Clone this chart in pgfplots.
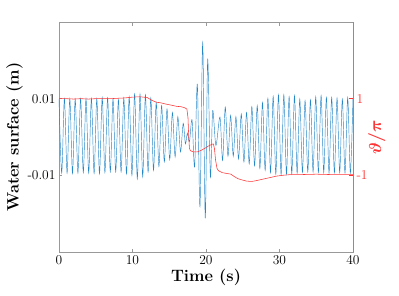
\documentclass[border=0pt]{standalone}
\usepackage{pgfplots}
\pgfplotsset{compat=1.18}
\usepackage{amsmath,bm}
\definecolor{mblue}{rgb}{0,0.447,0.741}
\definecolor{mred}{rgb}{1,0.2,0.2}
\definecolor{axgray}{rgb}{0.6,0.6,0.6}
\begin{document}
\begin{tikzpicture}
\useasboundingbox (-59pt,-43pt) rectangle (340pt,252pt);
\begin{axis}[
  scale only axis, width=294pt, height=230pt,
  at={(0pt,0pt)}, anchor=south west,
  xmin=0, xmax=40, ymin=-0.03, ymax=0.03,
  scaled y ticks=false,
  xtick={0,10,20,30,40}, xticklabels={0,10,20,30,40},
  ytick={-0.01,0.01}, yticklabels={-0.01,0.01},
  ytick pos=left, xtick pos=both,
  tick align=inside,
  axis line style={axgray, line width=0.6pt},
  tick style={axgray, line width=0.6pt},
  major tick length=3.5pt,
  ticklabel style={font=\fontsize{13.5}{15}\selectfont, text=black},
  xlabel={Time (s)}, ylabel={Water surface (m)},
  label style={font=\fontsize{16.5}{18}\selectfont\bfseries},
  xlabel style={yshift=3pt},
  ylabel style={yshift=-2pt},
]
\addplot[mblue!85!white, line width=0.45pt, smooth, tension=0.5] coordinates {
(0.000,0.0099) (0.367,-0.0094) (0.735,0.0100) (1.102,-0.0094) (1.470,0.0100)
(1.837,-0.0095) (2.204,0.0099) (2.572,-0.0094) (2.939,0.0100) (3.307,-0.0093)
(3.674,0.0100) (4.041,-0.0094) (4.409,0.0101) (4.776,-0.0095) (5.144,0.0100)
(5.511,-0.0096) (5.878,0.0103) (6.246,-0.0093) (6.613,0.0102) (6.980,-0.0091)
(7.348,0.0099) (7.715,-0.0091) (8.083,0.0097) (8.450,-0.0091) (8.818,0.0102)
(9.185,-0.0096) (9.552,0.0105) (9.920,-0.0100) (10.287,0.0112) (10.654,-0.0109)
(11.022,0.0112) (11.389,-0.0104) (11.757,0.0110) (12.124,-0.0091) (12.492,0.0102)
(12.859,-0.0087) (13.226,0.0090) (13.594,-0.0077) (13.961,0.0082) (14.329,-0.0065)
(14.696,0.0073) (15.063,-0.0059) (15.431,0.0064) (15.798,-0.0052) (16.166,0.0053)
(16.533,-0.0039) (16.900,0.0036) (17.20,-0.0018) (17.46,0.0010) (17.75,-0.0012)
(18.10,0.0045) (18.45,-0.0078) (18.82,0.0138) (19.18,-0.0182) (19.55,0.0246)
(19.90,-0.0212) (20.23,0.0203) (20.60,-0.0104) (20.91,0.0069) (21.35,-0.0022)
(21.90,0.0052) (22.26,-0.0061) (22.62,0.0078) (22.99,-0.0050) (23.35,0.0056)
(23.71,-0.0050) (24.07,0.0053) (24.43,-0.0057) (24.80,0.0060) (25.16,-0.0065)
(25.52,0.0064) (25.88,-0.0070) (26.24,0.0079) (26.61,-0.0075) (26.97,0.0082)
(27.33,-0.0082) (27.69,0.0090) (28.05,-0.0087) (28.42,0.0101) (28.78,-0.0093)
(29.14,0.0106) (29.50,-0.0097) (29.86,0.0110) (30.22,-0.0098) (30.59,0.0110)
(30.95,-0.0097) (31.31,0.0105) (31.67,-0.0096) (32.04,0.0108) (32.40,-0.0094)
(32.76,0.0099) (33.12,-0.0092) (33.48,0.0095) (33.85,-0.0091) (34.21,0.0097)
(34.57,-0.0091) (34.93,0.0105) (35.29,-0.0092) (35.66,0.0108) (36.02,-0.0093)
(36.38,0.0103) (36.74,-0.0094) (37.10,0.0103) (37.47,-0.0093) (37.83,0.0102)
(38.19,-0.0093) (38.55,0.0099) (38.91,-0.0094) (39.28,0.0103) (39.64,-0.0094)
(40.00,0.0103)
};
\end{axis}
\begin{axis}[
  scale only axis, width=294pt, height=230pt,
  at={(0pt,0pt)}, anchor=south west,
  xmin=0, xmax=40, ymin=-3, ymax=3,
  axis x line=none, axis y line*=right,
  ytick={-1,1}, yticklabels={-1,1},
  tick align=inside,
  y axis line style={mred!80!white, line width=0.6pt},
  ytick style={mred, line width=0.6pt},
  major tick length=3.5pt,
  yticklabel style={font=\fontsize{13.5}{15}\selectfont, text=mred},
  clip=false,
]
\addplot[mred, line width=0.55pt] coordinates {
(0,1.0) (1,1.0) (2,0.99) (3,1.0) (4,0.99) (5,1.0) (6,1.0) (7,1.0) (8,1.01)
(9,1.02) (10,1.04) (11,1.05) (12,1.03) (12.6,0.96) (13.2,0.91) (13.9,0.89)
(14.5,0.86) (15.3,0.83) (16.0,0.80) (16.6,0.79) (17.0,0.77) (17.4,0.73)
(17.55,0.5) (17.65,0.0) (17.75,-0.3) (17.9,-0.36) (18.3,-0.39) (18.8,-0.39)
(19.3,-0.35) (19.8,-0.30) (20.3,-0.24) (20.8,-0.19) (21.0,-0.18) (21.15,-0.3)
(21.3,-0.6) (21.5,-0.82) (21.7,-0.88) (22.2,-0.93) (22.8,-0.95) (23.4,-0.97)
(23.9,-1.04) (24.4,-1.09) (24.9,-1.12) (25.5,-1.15) (26.2,-1.16) (26.8,-1.14)
(27.5,-1.11) (28.2,-1.08) (28.9,-1.05) (29.6,-1.02) (30.4,-1.0) (31.5,-0.98)
(33,-0.98) (35,-0.97) (37,-0.98) (39,-0.98) (40,-0.98)
};
\node[anchor=north, rotate=90, text=mred, font=\fontsize{17}{19}\selectfont, inner sep=0pt]
  at ([xshift=15pt]rel axis cs:1,0.5) {$\boldsymbol{\vartheta/\pi}$};
\end{axis}
\end{tikzpicture}
\end{document}
